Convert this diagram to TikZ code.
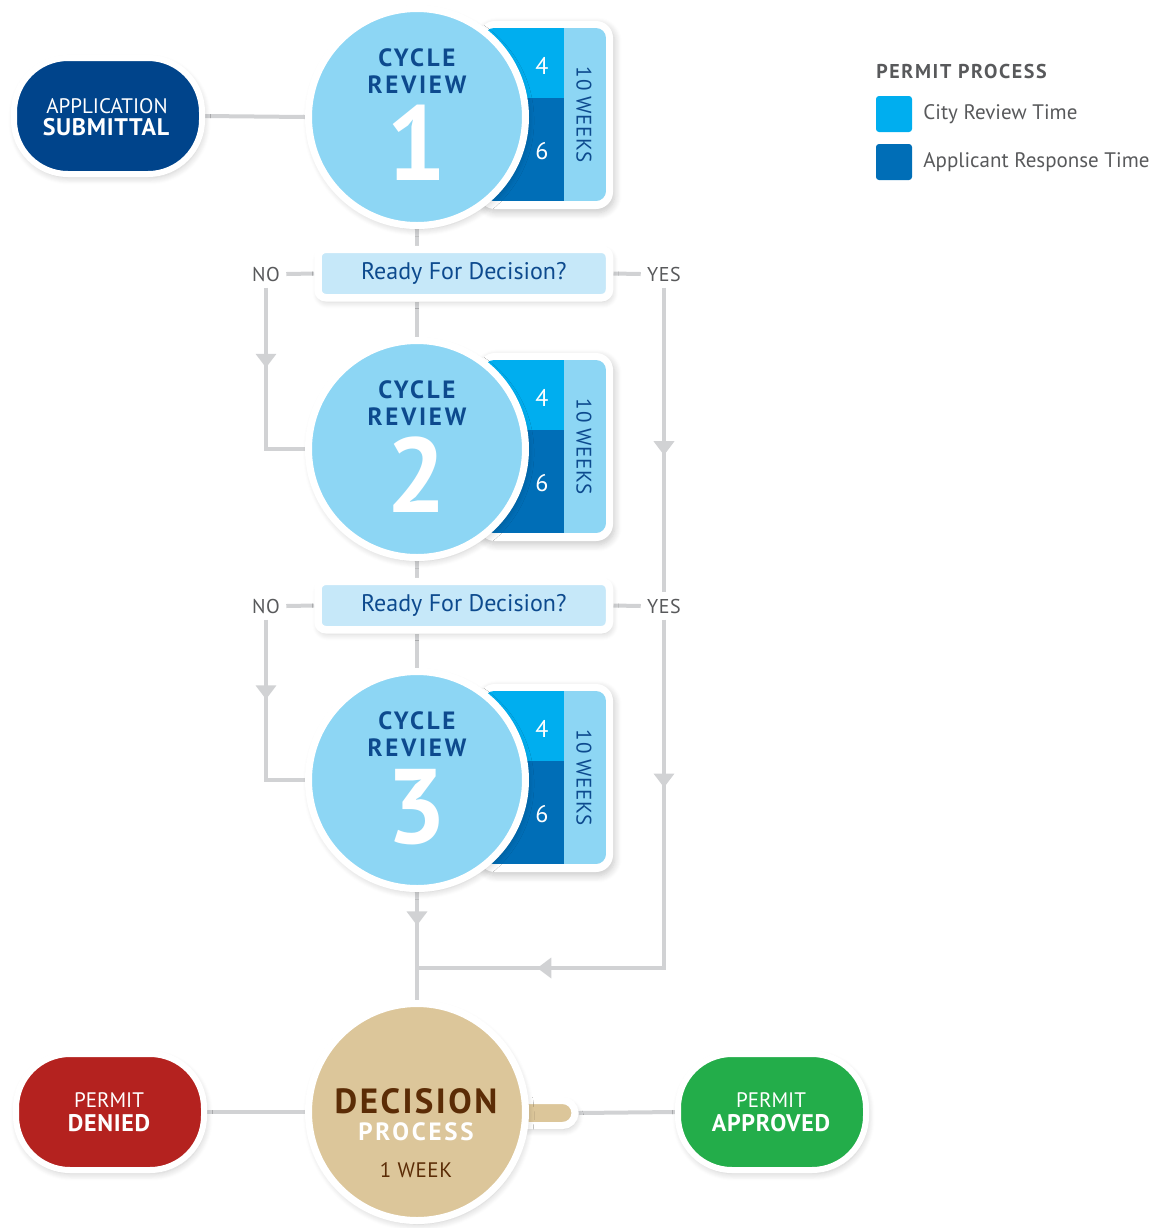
\documentclass[tikz,border=0pt]{standalone}
\usepackage{fontspec}
\setmainfont{PT Sans}
\newfontfamily\titlefont{PT Sans}[LetterSpace=11]
\newfontfamily\lighttrack{PT Sans}[LetterSpace=3]
\newfontfamily\legfont{PT Sans}[LetterSpace=8]
\newfontfamily\decfont{PT Sans}[LetterSpace=7]
\usetikzlibrary{shapes.misc,shadows.blur,decorations.markings,arrows.meta}
\pgfdeclarelayer{bg}
\pgfsetlayers{bg,main}
\newcommand\myfs[1]{\fontsize{#1}{#1}\selectfont}
\definecolor{appblue}{HTML}{00448B}
\definecolor{cycfill}{HTML}{8DD6F4}
\definecolor{cityblue}{HTML}{00AEEF}
\definecolor{respblue}{HTML}{006EB7}
\definecolor{qfill}{HTML}{C6E8F9}
\definecolor{titleblue}{HTML}{0D4A8E}
\definecolor{linegray}{HTML}{D1D2D4}
\definecolor{graytext}{HTML}{58595B}
\definecolor{tan}{HTML}{DCC69A}
\definecolor{brown}{HTML}{5B2C06}
\definecolor{deniedred}{HTML}{B4221F}
\definecolor{okgreen}{HTML}{23AD4A}
\tikzset{
  tipA/.tip={Triangle[width=10pt,length=7pt]},
  conn/.style={draw=linegray,line width=2pt},
  arrowat/.style={postaction={decorate,decoration={markings,mark=at position #1 with {\arrow{tipA}}}}},
  soft/.style={blur shadow={shadow xshift=0.8pt,shadow yshift=-1.8pt,shadow blur radius=3.5pt,shadow blur steps=8,shadow opacity=22}},
  pill/.style={rectangle,rounded corners=27pt,minimum width=94pt,minimum height=58pt,draw=white,line width=3pt,soft,inner sep=0pt},
  cyc/.style={circle,minimum size=108.5pt,inner sep=0pt,fill=cycfill,draw=white,line width=3.5pt,soft},
  cyctitle/.style={text=titleblue,font=\titlefont\bfseries\myfs{12.5pt},inner sep=0pt,anchor=base},
  cycnum/.style={text=white,font=\bfseries\myfs{53pt},inner sep=0pt,anchor=base},
  celltext/.style={text=white,font=\myfs{12pt},inner sep=0pt},
  weeks/.style={text=titleblue,font=\lighttrack\myfs{10.5pt},inner sep=0pt,rotate=-90},
  qbox/.style={rectangle,rounded corners=4pt,fill=qfill,draw=white,line width=3.75pt,minimum width=145.75pt,minimum height=24.25pt,soft,text=titleblue,font=\myfs{12pt}},
  yn/.style={text=graytext,font=\lighttrack\myfs{10pt},inner sep=3pt},
  wlabel/.style={text=white,font=\myfs{10.5pt},inner sep=0pt,anchor=base},
  wbold/.style={text=white,font=\lighttrack\bfseries\myfs{12pt},inner sep=0pt,anchor=base},
  legsq/.style={rectangle,rounded corners=1.5pt,minimum size=18pt,inner sep=0pt},
  legtext/.style={text=graytext,font=\myfs{10.5pt},inner sep=0pt,anchor=west},
}
\begin{document}
\begin{tikzpicture}[x=0.5pt,y=-0.5pt]
\useasboundingbox (0,0) rectangle (1157,1228);
% application
\node[pill,fill=appblue] (app) at (108,116) {};
\node[wlabel] (appt1) at (107,113) {APPLICATION};
\node[wbold] (appt2) at (106,135) {SUBMITTAL};
% cycles
\foreach \i/\cy in {1/117,2/449,3/780}{
  \path[soft,fill=white,rounded corners=8.5pt] (478,\cy-96) rectangle (613,\cy+92);
  \begin{scope}
    \clip[rounded corners=5pt] (484,\cy-89) rectangle (606,\cy+84);
    \fill[cityblue] (484,\cy-89) rectangle (564,\cy-19);
    \fill[respblue] (484,\cy-19) rectangle (564,\cy+84);
    \fill[cycfill] (564,\cy-89) rectangle (606,\cy+84);
  \end{scope}
  \node[celltext] (four\i) at (542,\cy-51) {4};
  \node[celltext] (six\i) at (542,\cy+34) {6};
  \node[weeks] (wk\i) at (584,\cy-2) {10 WEEKS};
  \node[cyc] (c\i) at (417,\cy) {};
  \node[cyctitle] (ct\i) at (417,\cy-51) {CYCLE};
  \node[cyctitle] (cr\i) at (417,\cy-24) {REVIEW};
  \node[cycnum] (cn\i) at (417,\cy+63) {\i};
}
% questions
\node[qbox] (q1) at (463.75,273.5) {Ready For Decision?};
\node[qbox] (q2) at (463.75,605.5) {Ready For Decision?};
\node[yn] (no1) at (266,274) {NO};
\node[yn] (yes1) at (664,274) {YES};
\node[yn] (no2) at (266,606) {NO};
\node[yn] (yes2) at (664,606) {YES};
% decision
\node[rounded rectangle,rounded rectangle left arc=none,minimum width=47.5pt,minimum height=12.5pt,inner sep=0pt,fill=tan,draw=white,line width=3.5pt,soft] (tab) at (527.5,1113) {};
\node[cyc,fill=tan] (dec) at (417,1112) {};
\node[text=brown,font=\decfont\bfseries\myfs{17.5pt},inner sep=0pt,anchor=base] (dect1) at (416,1113) {DECISION};
\node[text=white,font=\titlefont\bfseries\myfs{12.5pt},inner sep=0pt,anchor=base] (dect2) at (416,1140) {PROCESS};
\node[text=brown,font=\lighttrack\myfs{10.5pt},inner sep=0pt,anchor=base] (dect3) at (416,1177) {1 WEEK};
\node[pill,fill=deniedred] (den) at (110,1112) {};
\node[wlabel] (dent1) at (109,1107) {PERMIT};
\node[wbold] (dent2) at (109,1131) {DENIED};
\node[pill,fill=okgreen] (appr) at (772,1112) {};
\node[wlabel] (apprt1) at (771,1107) {PERMIT};
\node[wbold] (apprt2) at (771,1131) {APPROVED};
% legend
\node[text=graytext,font=\legfont\bfseries\myfs{10pt},inner sep=0pt,anchor=base west] (legt) at (876,78) {PERMIT PROCESS};
\node[legsq,fill=cityblue] (lsq1) at (894,114) {};
\node[legsq,fill=respblue] (lsq2) at (894,162) {};
\node[legtext] (lt1) at (923,114) {City Review Time};
\node[legtext] (lt2) at (923,162) {Applicant Response Time};
% connectors
\coordinate (jn) at (417,968);
\begin{pgfonlayer}{bg}
\draw[conn] (app.east) -- (c1.west);
\draw[conn] (c1.south) -- (c1.south |- q1.north);
\draw[conn] (q1.south -| c2.north) -- (c2.north);
\draw[conn] (c2.south) -- (c2.south |- q2.north);
\draw[conn] (q2.south -| c3.north) -- (c3.north);
\draw[conn] (no1.east) -- (q1.west);
\draw[conn] (q1.east) -- (yes1.west);
\draw[conn] (no2.east) -- (q2.west);
\draw[conn] (q2.east) -- (yes2.west);
\draw[conn,arrowat=0.4] (no1.south) |- (c2.west);
\draw[conn,arrowat=0.4] (no2.south) |- (c3.west);
\draw[conn,arrowat=0.55] (yes1.south) -- (yes2.north);
\draw[conn,arrowat=0.282,arrowat=0.798] (yes2.south) |- (jn);
\draw[conn,arrowat=0.44] (c3.south) -- (jn);
\draw[conn] (jn) -- (dec.north);
\draw[conn] (den.east) -- (dec.west);
\draw[conn] (tab.east) -- (appr.west);
\end{pgfonlayer}
\end{tikzpicture}
\end{document}
